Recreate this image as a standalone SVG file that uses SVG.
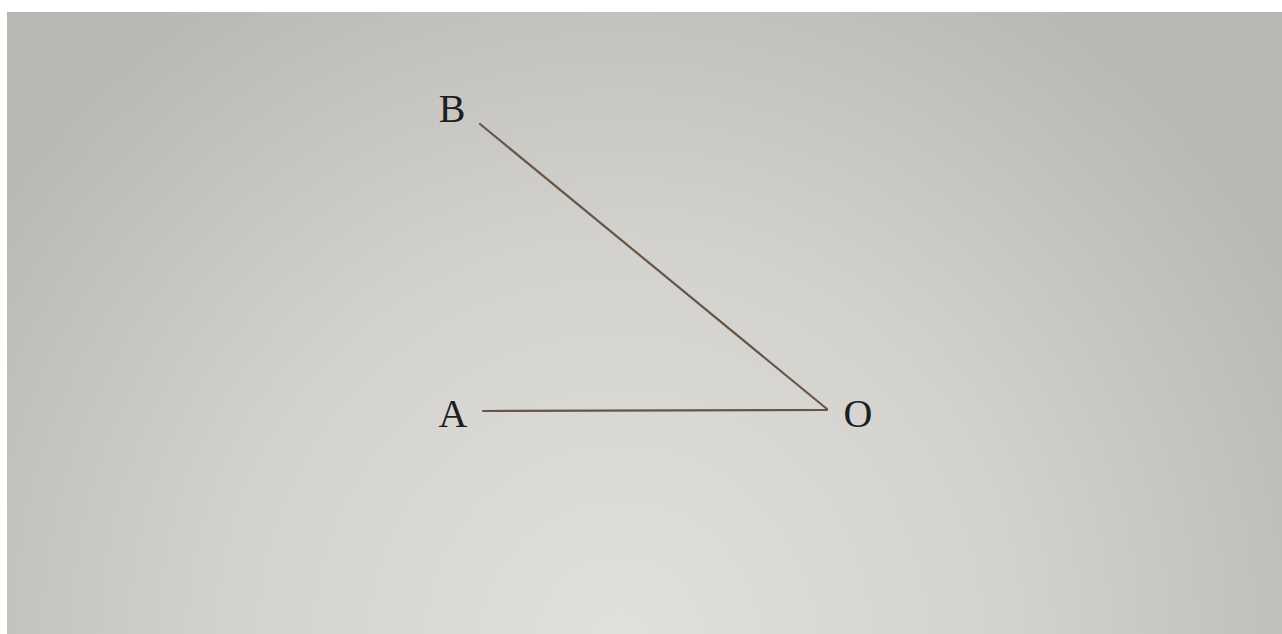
<svg xmlns="http://www.w3.org/2000/svg" width="1282" height="634" viewBox="0 0 1282 634">
<defs>
<radialGradient id="bg" cx="620" cy="640" r="780" gradientUnits="userSpaceOnUse">
<stop offset="0" stop-color="#e2e0dc"/>
<stop offset="0.5" stop-color="#d4d2cf"/>
<stop offset="1" stop-color="#b9b7b4"/>
</radialGradient>
<style>
.lbl{font-family:"Liberation Serif","Times New Roman",serif;font-size:40px;fill:#1e1e1e;text-anchor:middle}
.seg{stroke:#6a5446;stroke-width:2.2;stroke-linecap:round;fill:none}
</style>
</defs>
<rect x="0" y="0" width="1282" height="634" fill="#ffffff"/>
<rect x="7" y="12" width="1275" height="622" fill="url(#bg)"/>
<g id="connectors">
<line class="seg" x1="480" y1="124" x2="827" y2="409"/>
<line class="seg" x1="483" y1="411" x2="827" y2="410"/>
</g>
<g id="node-B"><text class="lbl" x="452" y="122">B</text></g>
<g id="node-A"><text class="lbl" x="453" y="427">A</text></g>
<g id="node-O"><text class="lbl" x="858" y="427">O</text></g>
</svg>
